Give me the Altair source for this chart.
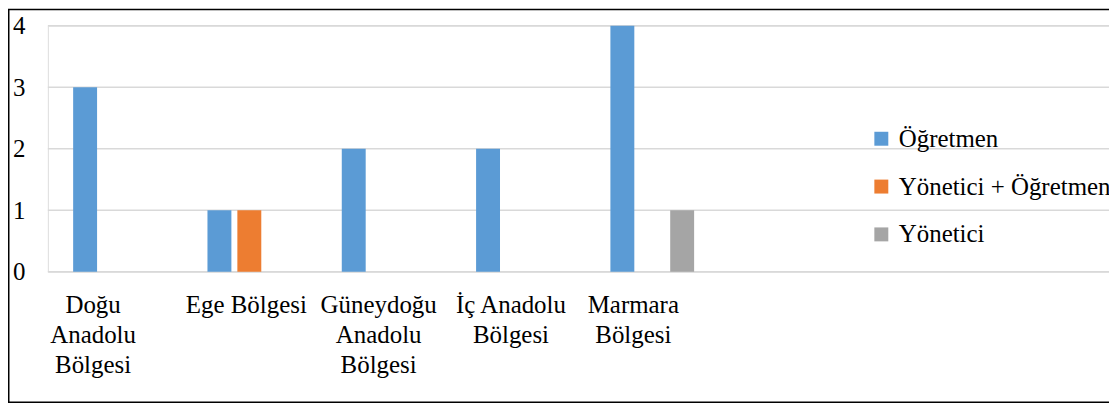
import altair as alt
import pandas as pd

categories = ["Doğu Anadolu Bölgesi", "Ege Bölgesi", "Güneydoğu Anadolu Bölgesi",
              "İç Anadolu Bölgesi", "Marmara Bölgesi"]
tick_label_lines = [["Doğu", "Anadolu", "Bölgesi"], ["Ege Bölgesi"],
                    ["Güneydoğu", "Anadolu", "Bölgesi"], ["İç Anadolu", "Bölgesi"],
                    ["Marmara", "Bölgesi"]]
series = ["Öğretmen", "Yönetici + Öğretmen", "Yönetici"]
ogretmen = [3, 1, 2, 2, 4]
yonetici_ogretmen = [0, 1, 0, 0, 0]
yonetici = [0, 0, 0, 0, 1]
colors = ["#5B9BD5", "#ED7D31", "#A5A5A5"]
y_ticks = [0, 1, 2, 3, 4]

rows = []
for s, vals in zip(series, [ogretmen, yonetici_ogretmen, yonetici]):
    for c, v in zip(categories, vals):
        rows.append({"Bölge": c, "Grup": s, "Sayı": v})
df = pd.DataFrame(rows)
grid_df = pd.DataFrame({"Sayı": y_ticks})

# multi-line tick labels
expr = "[datum.label]"
for c, lines in zip(categories, tick_label_lines):
    arr = "[" + ",".join("'" + l + "'" for l in lines) + "]"
    expr = f"datum.label == '{c}' ? {arr} : ({expr})"

label_shift = [-22, -3, -5, -7, -19]
offset_cond = [{"test": f"datum.value == '{c}'", "value": o} for c, o in zip(categories, label_shift)]

FONT = "Liberation Serif"
PLOT_W, PLOT_H = 1065, 247
TOTAL_W, TOTAL_H = 1105, 396
PAD_L, PAD_T = 40, 17

y_scale = alt.Scale(domain=[0, 4], nice=False)
y_axis = alt.Axis(values=y_ticks, format="d", domain=False, ticks=False, grid=False,
                  labelFont=FONT, labelFontSize=25, labelColor="black", labelPadding=23)

grid = alt.Chart(grid_df).mark_rule(color="#D9D9D9", strokeWidth=1.5).encode(
    y=alt.Y("Sayı:Q", scale=y_scale, title=None, axis=y_axis),
    x=alt.value(0), x2=alt.value(PLOT_W),
)

bars = alt.Chart(df).mark_bar().encode(
    x=alt.X("Bölge:N", sort=categories, title=None,
            scale=alt.Scale(range=[0, 674], paddingInner=0, paddingOuter=0),
            axis=alt.Axis(labelAngle=0, domain=False, ticks=False, grid=False,
                          labelExpr=expr, labelFont=FONT, labelFontSize=25,
                          labelColor="black", labelLineHeight=30, labelPadding=21,
                          labelBaseline="top",
                          labelOffset={"condition": offset_cond, "value": 0})),
    xOffset=alt.XOffset("Grup:N", sort=series,
                        scale=alt.Scale(paddingInner=0.2, paddingOuter=0.846)),
    y=alt.Y("Sayı:Q", title=None, scale=y_scale, axis=y_axis),
    color=alt.Color("Grup:N", sort=series,
                    scale=alt.Scale(domain=series, range=colors),
                    legend=alt.Legend(title=None, orient="none", legendX=824, legendY=101,
                                      symbolType="square", symbolSize=196,
                                      symbolStrokeWidth=0, labelFont=FONT,
                                      labelFontSize=25, labelColor="black",
                                      labelOffset=5, rowPadding=22, labelLimit=600,
                                      padding=0)),
)

frame = alt.Chart(alt.Data(values=[{}])).mark_rect(
    filled=False, stroke="black", strokeWidth=1.5
).encode(
    x=alt.value(-PAD_L + 0.75), x2=alt.value(PLOT_W + 20),
    y=alt.value(-PAD_T + 0.75), y2=alt.value(TOTAL_H - PAD_T - 1.0),
)

chart = alt.layer(grid, bars, frame).properties(
    width=PLOT_W, height=PLOT_H,
    padding={"left": PAD_L, "top": PAD_T, "right": TOTAL_W - PAD_L - PLOT_W,
             "bottom": TOTAL_H - PAD_T - PLOT_H},
    autosize="none",
).configure_view(stroke=None).configure(background="white")

chart.save("out.html", embed_options={"renderer": "svg", "actions": False})
